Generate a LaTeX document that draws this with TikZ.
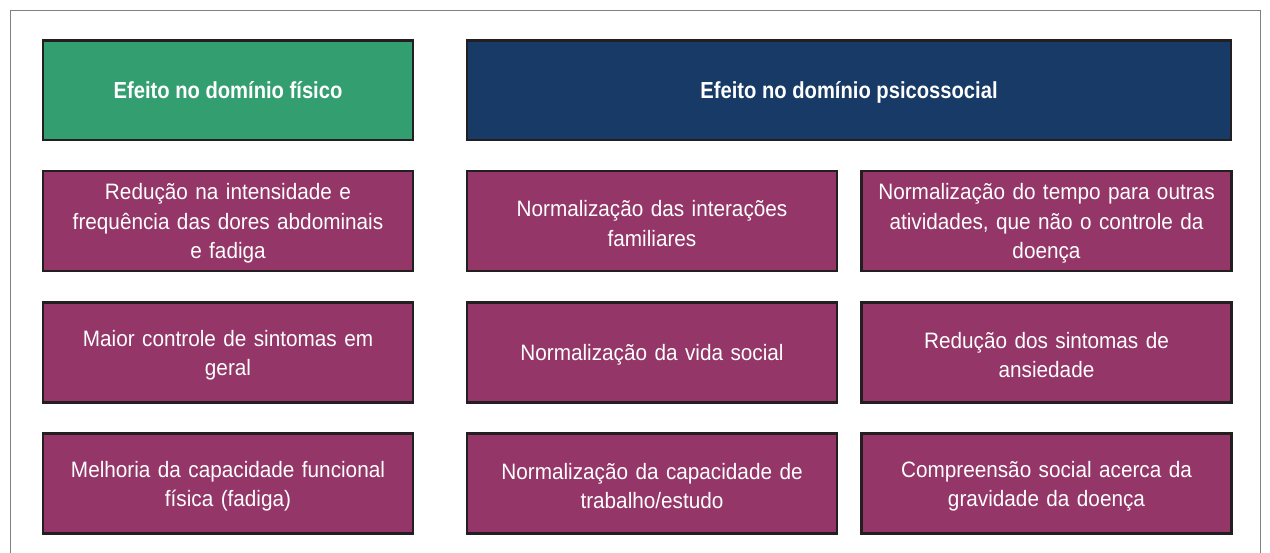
\documentclass[tikz,border=0pt]{standalone}
\usepackage{fontspec}
\setmainfont{Liberation Sans}[FakeStretch=0.93]
\newfontfamily\titlefont{Liberation Sans}[FakeStretch=0.87]
\definecolor{frame}{HTML}{808080}
\definecolor{edge}{HTML}{231F20}
\definecolor{fisgreen}{HTML}{339E70}
\definecolor{psinavy}{HTML}{173A66}
\definecolor{itemmag}{HTML}{943668}
\begin{document}
\begin{tikzpicture}[x=1pt,y=-1pt,
  boxbase/.style={draw=edge, line width=2.4pt, inner sep=0pt, outer sep=0pt, text=white, align=center},
  headbox/.style={boxbase, font=\titlefont\bfseries\fontsize{23.2}{28}\selectfont, text height=16.8pt, text depth=0pt},
  itembox/.style={boxbase, fill=itemmag, minimum width=370pt, minimum height=100pt, text width=355pt, text height=21.5pt, font=\fontsize{22.3}{29.5}\selectfont}]
\useasboundingbox (0,0) rectangle (1270,553);
\draw[frame, line width=1pt] (10,553) -- (10,11) -- (1260,11) -- (1260,553);
% headers
\node[headbox, fill=fisgreen, minimum width=370pt, minimum height=99.5pt] (hf) at (228,90.25) {Efeito no domínio físico};
\node[headbox, fill=psinavy, minimum width=764pt, minimum height=99.5pt] (hp) at (849,90.25) {Efeito no domínio psicossocial};
% row 1
\node[itembox] (a1) at (228,221) {Redução na intensidade e\\frequência das dores abdominais\\e fadiga};
\node[itembox] (b1) at (652,221) {Normalização das interações\\familiares};
\node[itembox] (c1) at (1046.5,221) {Normalização do tempo para outras\\atividades, que não o controle da\\doença};
% row 2
\node[itembox] (a2) at (228,352.5) {Maior controle de sintomas em\\geral};
\node[itembox] (b2) at (652,352.5) {Normalização da vida social};
\node[itembox] (c2) at (1046.5,352.5) {Redução dos sintomas de\\ansiedade};
% row 3
\node[itembox] (a3) at (228,483.5) {Melhoria da capacidade funcional\\física (fadiga)};
\node[itembox] (b3) at (652,483.5) {Normalização da capacidade de\\trabalho/estudo};
\node[itembox] (c3) at (1046.5,483.5) {Compreensão social acerca da\\gravidade da doença};
\end{tikzpicture}
\end{document}
